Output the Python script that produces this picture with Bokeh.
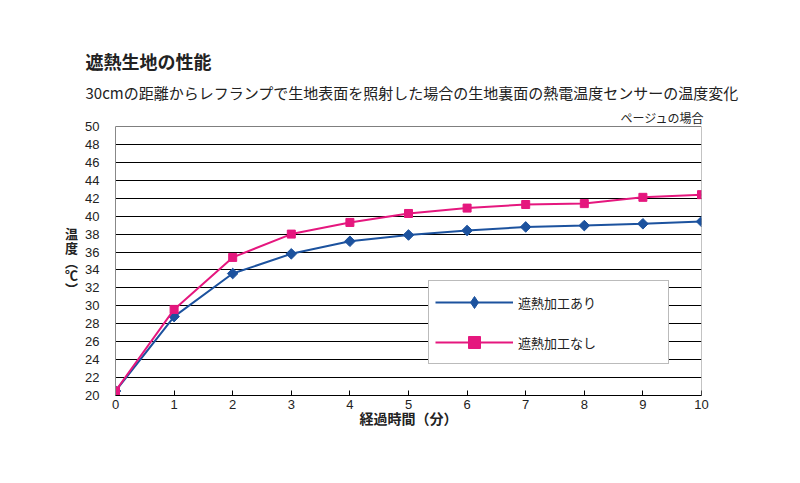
import math
from bokeh.plotting import figure
from bokeh.models import Span, Legend, LegendItem, FixedTicker, Range1d, Title
from bokeh.embed import file_html
from bokeh.resources import INLINE

minutes = [0, 1, 2, 3, 4, 5, 6, 7, 8, 9, 10]
with_coating = [20.5, 28.8, 33.6, 35.8, 37.2, 37.9, 38.4, 38.8, 38.95, 39.15, 39.4]
without_coating = [20.5, 29.6, 35.4, 38.0, 39.3, 40.3, 40.9, 41.3, 41.4, 42.1, 42.4]
y_ticks = list(range(20, 52, 2))
x_ticks = list(range(0, 11))

title_text = "遮熱生地の性能"
subtitle_text = "30cmの距離からレフランプで生地表面を照射した場合の生地裏面の熱電温度センサーの温度変化"
note_text = "ページュの場合"
series_names = ["遮熱加工あり", "遮熱加工なし"]
x_label = "経過時間（分）"
y_label = "温\n度\n︵\n℃\n︶"

JP = "Noto Sans CJK JP"
LAT = "Liberation Sans"
BLUE = "#1c529e"
PINK = "#e5177e"

p = figure(width=792, height=475, output_backend="svg", toolbar_location=None,
           x_range=Range1d(0, 10), y_range=Range1d(20, 50),
           min_border_left=115, min_border_right=91, min_border_top=126, min_border_bottom=80)
p.outline_line_color = None
p.background_fill_color = "white"
p.border_fill_color = "white"

p.xgrid.visible = False
p.ygrid.grid_line_color = "black"
p.ygrid.grid_line_width = 1
p.ygrid.ticker = FixedTicker(ticks=y_ticks)

p.xaxis.ticker = FixedTicker(ticks=x_ticks)
p.yaxis.ticker = FixedTicker(ticks=y_ticks)
p.xaxis.axis_line_color = "black"
p.xaxis.major_tick_line_color = "black"
p.xaxis.major_tick_in = 5
p.xaxis.major_tick_out = 0
p.xaxis.minor_tick_line_color = None
p.xaxis.major_label_standoff = 4
p.xaxis.major_label_text_font = LAT
p.xaxis.major_label_text_font_size = "13px"
p.xaxis.major_label_text_color = "#222222"
p.xaxis.axis_label = x_label
p.xaxis.axis_label_text_font = JP
p.xaxis.axis_label_text_font_style = "bold"
p.xaxis.axis_label_text_font_size = "14px"
p.xaxis.axis_label_text_color = "#222222"
p.xaxis.axis_label_standoff = -4

p.yaxis.axis_line_color = "#888888"
p.yaxis.major_tick_line_color = None
p.yaxis.minor_tick_line_color = None
p.yaxis.major_label_standoff = 10
p.yaxis.major_label_text_font = LAT
p.yaxis.major_label_text_font_size = "13px"
p.yaxis.major_label_text_color = "#222222"
p.yaxis.axis_label = y_label
p.yaxis.axis_label_orientation = "horizontal"
p.yaxis.axis_label_text_font = JP
p.yaxis.axis_label_text_font_style = "bold"
p.yaxis.axis_label_text_font_size = "13px"
p.yaxis.axis_label_text_color = "#222222"
p.yaxis.axis_label_text_line_height = 0.72
p.yaxis.axis_label_standoff = 4

p.add_layout(Span(location=10, dimension="height", line_color="#888888", line_width=1))
p.add_layout(Span(location=50, dimension="width", line_color="black", line_width=1))

l1 = p.line(minutes, with_coating, line_color=BLUE, line_width=2)
# legend key marker: drawn underneath (hidden by) the rotated squares, used only for the legend shape
m1_key = p.scatter(minutes, with_coating, marker="diamond", size=6, fill_color=BLUE, line_color=BLUE)
m1 = p.scatter(minutes, with_coating, marker="square", angle=math.pi / 4, size=7.5,
               fill_color=BLUE, line_color=BLUE)
l2 = p.line(minutes, without_coating, line_color=PINK, line_width=2)
m2 = p.scatter(minutes, without_coating, marker="square", size=8, fill_color=PINK, line_color=PINK)

legend = Legend(items=[LegendItem(label=series_names[0], renderers=[l1, m1_key]),
                       LegendItem(label=series_names[1], renderers=[l2, m2])],
                location=(313, 31), margin=0, padding=6,
                glyph_width=78, glyph_height=30, label_standoff=5, label_width=144, spacing=10,
                border_line_color="#777777", border_line_width=1,
                background_fill_color="white", background_fill_alpha=1.0,
                label_text_font=JP, label_text_font_size="13px", label_text_color="#222222")
p.add_layout(legend, "center")

p.add_layout(Title(text=note_text, align="right", offset=-3, standoff=2,
                   text_font=JP, text_font_size="12px", text_font_style="normal",
                   text_color="#222222"), "above")
p.add_layout(Title(text=subtitle_text, align="left", offset=-30, standoff=6,
                   text_font=JP, text_font_size="15px", text_font_style="normal",
                   text_color="#222222"), "above")
p.add_layout(Title(text=title_text, align="left", offset=-30, standoff=6,
                   text_font=JP, text_font_size="18px", text_font_style="bold",
                   text_color="#222222"), "above")

open("out.html", "w").write(file_html(p, INLINE))
